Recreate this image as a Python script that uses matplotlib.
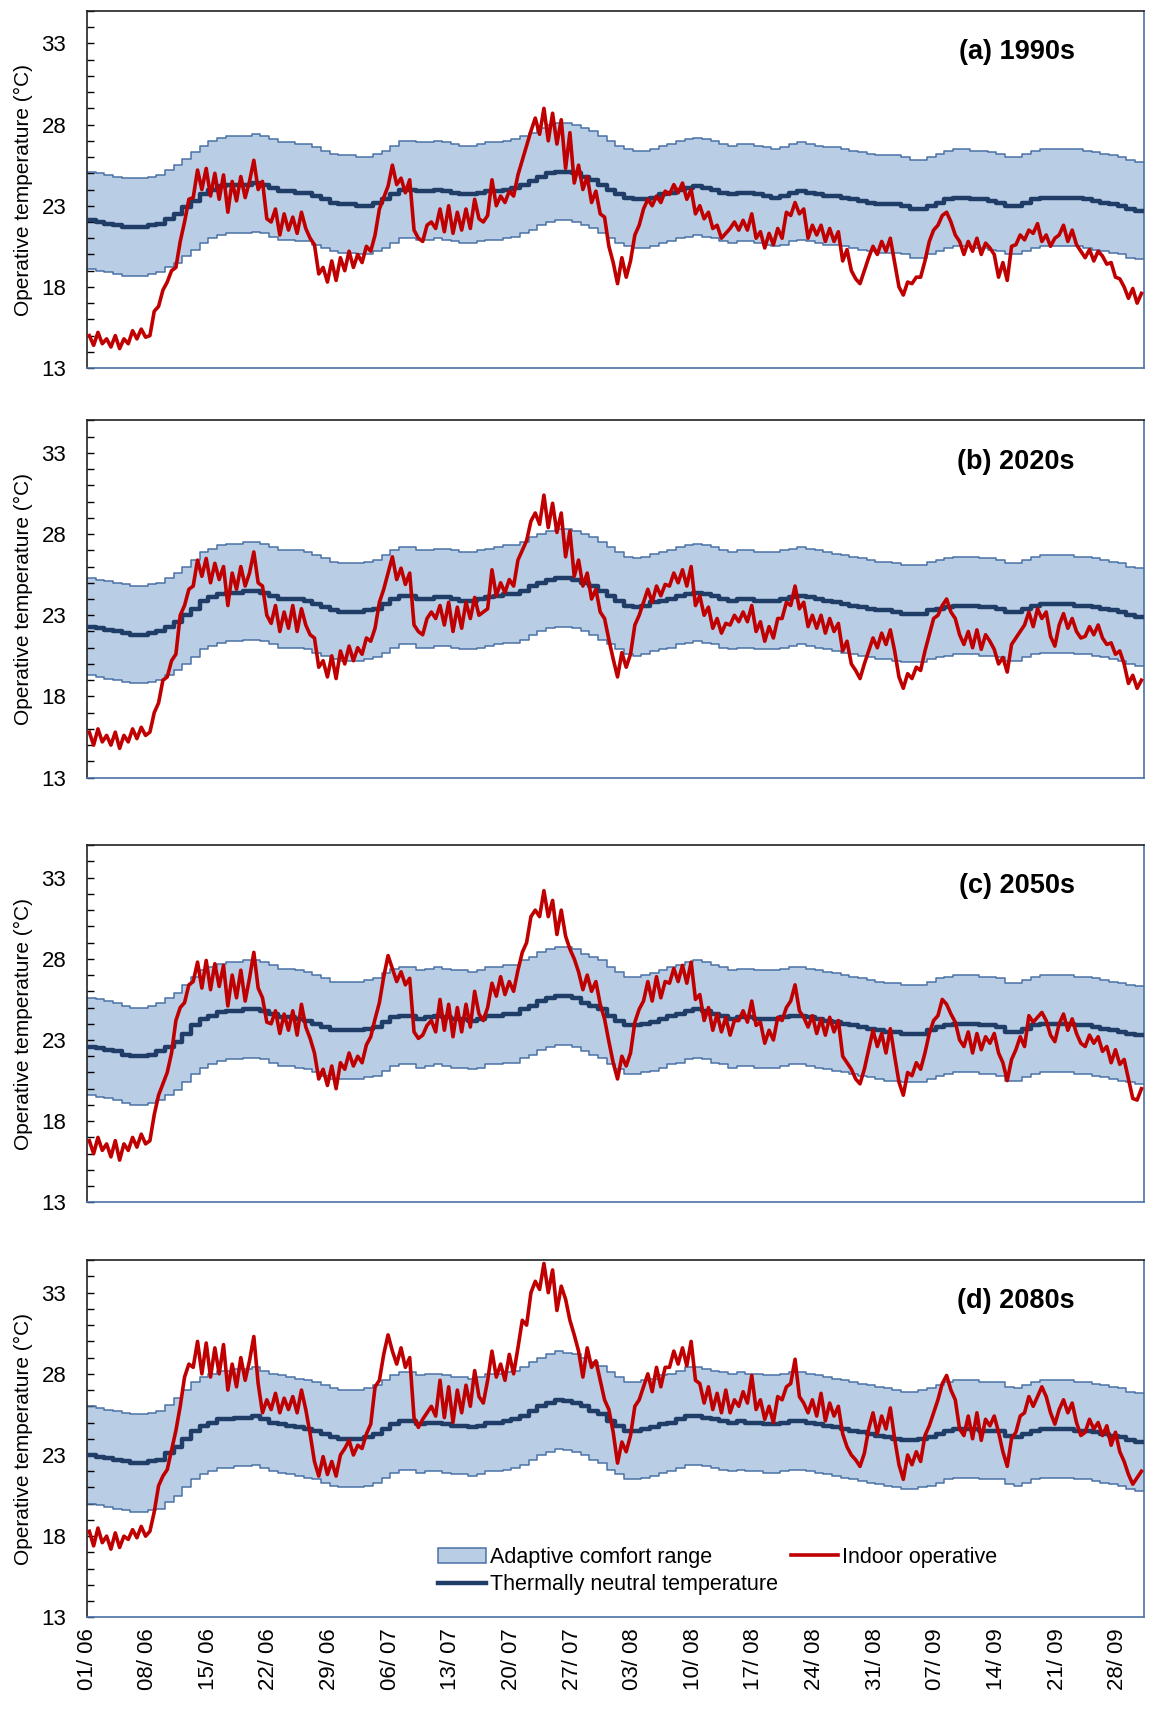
import numpy as np
import matplotlib
matplotlib.use('Agg')
import matplotlib.pyplot as plt
from matplotlib.patches import Patch
from matplotlib.lines import Line2D
from matplotlib.ticker import MultipleLocator

plt.rcParams['font.family'] = ['Liberation Sans', 'DejaVu Sans']

# x axis: days since 1 June (122 days, to 30 Sep)
n_days = 122
tick_days = [0, 7, 14, 21, 28, 35, 42, 49, 56, 63, 70, 77, 84, 91, 98, 105, 112, 119]
tick_labels = ['01/ 06', '08/ 06', '15/ 06', '22/ 06', '29/ 06', '06/ 07', '13/ 07',
               '20/ 07', '27/ 07', '03/ 08', '10/ 08', '17/ 08', '24/ 08', '31/ 08',
               '07/ 09', '14/ 09', '21/ 09', '28/ 09']
titles = ['(a) 1990s', '(b) 2020s', '(c) 2050s', '(d) 2080s']

# comfort range = neutral temperature +/- 3 K
comfort_margin = 3.0

# thermally neutral temperature, one value per day
neutral_a = [22.1, 22.0, 21.9, 21.8, 21.7, 21.7, 21.7, 21.8, 21.9, 22.2, 22.5, 22.9, 23.3, 23.7, 24.0, 24.2,
             24.3, 24.3, 24.3, 24.4, 24.3, 24.1, 23.9, 23.9, 23.8, 23.8, 23.6, 23.4, 23.2, 23.1, 23.1, 23.0,
             23.0, 23.2, 23.4, 23.7, 24.0, 24.0, 23.9, 23.9, 24.0, 23.9, 23.8, 23.7, 23.7, 23.8, 23.9, 23.9,
             24.0, 24.1, 24.3, 24.5, 24.8, 25.0, 25.1, 25.1, 25.0, 24.8, 24.6, 24.3, 24.0, 23.7, 23.5, 23.4,
             23.4, 23.5, 23.7, 23.8, 24.0, 24.1, 24.2, 24.1, 24.0, 23.8, 23.7, 23.8, 23.8, 23.7, 23.6, 23.5,
             23.6, 23.8, 23.9, 23.8, 23.7, 23.6, 23.6, 23.5, 23.4, 23.3, 23.2, 23.1, 23.1, 23.1, 23.0, 22.8,
             22.8, 23.0, 23.2, 23.4, 23.5, 23.5, 23.4, 23.4, 23.3, 23.2, 23.0, 23.0, 23.2, 23.4, 23.5, 23.5,
             23.5, 23.5, 23.5, 23.4, 23.3, 23.2, 23.1, 23.0, 22.8, 22.7]
neutral_b = [22.3, 22.2, 22.1, 22.0, 21.9, 21.8, 21.8, 21.9, 22.0, 22.3, 22.6, 23.0, 23.4, 23.9, 24.1, 24.3,
             24.4, 24.4, 24.5, 24.5, 24.4, 24.2, 24.0, 24.0, 24.0, 23.9, 23.7, 23.5, 23.3, 23.2, 23.2, 23.2,
             23.3, 23.4, 23.7, 24.0, 24.2, 24.2, 24.0, 24.0, 24.1, 24.1, 24.0, 23.9, 23.9, 24.0, 24.1, 24.2,
             24.3, 24.3, 24.5, 24.8, 25.0, 25.2, 25.3, 25.3, 25.2, 25.0, 24.8, 24.5, 24.2, 23.9, 23.6, 23.5,
             23.6, 23.8, 23.9, 24.0, 24.2, 24.3, 24.4, 24.3, 24.2, 24.0, 23.9, 24.0, 24.0, 23.9, 23.9, 23.9,
             24.0, 24.1, 24.2, 24.1, 24.0, 23.9, 23.8, 23.7, 23.6, 23.5, 23.4, 23.3, 23.3, 23.2, 23.1, 23.1,
             23.1, 23.3, 23.4, 23.5, 23.6, 23.6, 23.6, 23.5, 23.5, 23.4, 23.2, 23.2, 23.4, 23.6, 23.7, 23.7,
             23.7, 23.7, 23.6, 23.6, 23.5, 23.4, 23.3, 23.2, 23.0, 22.9]
neutral_c = [22.6, 22.5, 22.4, 22.3, 22.1, 22.0, 22.0, 22.1, 22.3, 22.6, 22.9, 23.4, 23.9, 24.3, 24.5, 24.7,
             24.8, 24.8, 24.9, 24.9, 24.8, 24.6, 24.4, 24.4, 24.3, 24.2, 24.0, 23.8, 23.6, 23.6, 23.6, 23.6,
             23.7, 23.8, 24.1, 24.4, 24.5, 24.5, 24.3, 24.4, 24.5, 24.4, 24.3, 24.3, 24.2, 24.3, 24.5, 24.5,
             24.6, 24.6, 24.9, 25.1, 25.4, 25.6, 25.7, 25.7, 25.6, 25.3, 25.1, 24.9, 24.5, 24.2, 23.9, 23.9,
             24.0, 24.1, 24.3, 24.5, 24.6, 24.8, 24.9, 24.8, 24.6, 24.5, 24.3, 24.4, 24.4, 24.3, 24.3, 24.3,
             24.4, 24.5, 24.5, 24.4, 24.3, 24.2, 24.1, 24.0, 23.9, 23.8, 23.7, 23.6, 23.5, 23.5, 23.4, 23.4,
             23.4, 23.6, 23.8, 23.9, 24.0, 24.0, 24.0, 23.9, 23.9, 23.8, 23.5, 23.5, 23.7, 23.9, 24.0, 24.0,
             24.0, 24.0, 23.9, 23.9, 23.8, 23.7, 23.6, 23.5, 23.4, 23.3]
neutral_d = [23.0, 22.9, 22.8, 22.7, 22.6, 22.5, 22.5, 22.6, 22.7, 23.1, 23.5, 24.0, 24.5, 24.8, 25.0, 25.2,
             25.2, 25.3, 25.3, 25.4, 25.2, 25.0, 24.9, 24.8, 24.7, 24.6, 24.5, 24.3, 24.1, 24.0, 24.0, 24.0,
             24.1, 24.3, 24.6, 24.9, 25.1, 25.1, 24.9, 25.0, 25.0, 24.9, 24.8, 24.8, 24.7, 24.8, 25.0, 25.0,
             25.1, 25.2, 25.4, 25.7, 26.0, 26.2, 26.4, 26.3, 26.2, 26.0, 25.7, 25.5, 25.1, 24.8, 24.5, 24.5,
             24.6, 24.7, 24.9, 25.0, 25.2, 25.4, 25.4, 25.3, 25.2, 25.1, 25.0, 25.1, 25.0, 25.0, 24.9, 24.9,
             25.0, 25.1, 25.1, 25.0, 24.9, 24.8, 24.7, 24.6, 24.5, 24.4, 24.3, 24.2, 24.1, 24.0, 23.9, 23.9,
             24.0, 24.1, 24.3, 24.5, 24.6, 24.6, 24.6, 24.5, 24.5, 24.5, 24.2, 24.1, 24.3, 24.5, 24.6, 24.6,
             24.6, 24.6, 24.5, 24.5, 24.4, 24.3, 24.2, 24.1, 23.9, 23.8]

# indoor operative temperature, two readings per day
indoor_a = [15.0, 14.4, 15.2, 14.5, 14.8, 14.3, 15.0, 14.2, 14.8, 14.5, 15.3, 14.8, 15.4, 14.9, 15.0, 16.5,
            16.8, 17.8, 18.3, 19.0, 19.2, 20.8, 22.0, 23.4, 23.5, 25.2, 24.0, 25.3, 23.6, 25.0, 23.4, 24.9,
            22.6, 24.5, 23.3, 24.8, 23.5, 24.5, 25.8, 24.0, 24.5, 22.2, 22.0, 22.8, 21.2, 22.5, 21.5, 22.3,
            21.3, 22.6, 21.6, 21.0, 20.6, 18.8, 19.2, 18.3, 19.6, 18.4, 19.8, 19.0, 20.2, 19.2, 20.0, 19.5,
            20.5, 20.2, 21.2, 22.8, 23.5, 24.2, 25.5, 24.3, 24.7, 23.8, 24.6, 21.5, 21.0, 20.8, 21.8, 22.0,
            21.6, 22.8, 21.4, 23.0, 21.3, 22.6, 21.5, 22.8, 21.6, 23.4, 22.2, 22.0, 22.4, 24.6, 23.0, 23.6,
            23.2, 23.9, 23.6, 24.9, 25.8, 26.7, 27.6, 28.4, 27.4, 29.0, 27.0, 28.7, 26.8, 28.3, 25.3, 27.5,
            24.4, 25.5, 24.0, 24.8, 23.2, 23.9, 22.5, 22.3, 20.5, 19.5, 18.2, 19.8, 18.6, 19.6, 21.2, 21.8,
            22.8, 23.4, 23.0, 23.6, 23.2, 23.9, 23.7, 24.3, 23.8, 24.4, 23.4, 24.0, 22.5, 23.0, 22.2, 22.6,
            21.6, 21.8, 21.0, 21.3, 21.6, 22.0, 21.5, 22.1, 21.5, 22.5, 21.0, 21.4, 20.4, 21.3, 20.6, 21.6,
            21.0, 22.6, 22.4, 23.2, 22.5, 22.8, 21.0, 21.8, 21.2, 21.8, 20.8, 21.6, 20.8, 21.4, 19.6, 20.3,
            19.0, 18.5, 18.2, 19.0, 19.8, 20.5, 20.0, 20.8, 20.2, 21.0, 19.5, 18.0, 17.5, 18.3, 18.2, 18.6,
            18.6, 19.6, 20.8, 21.5, 21.8, 22.4, 22.6, 22.0, 21.2, 20.8, 20.0, 20.8, 20.2, 21.0, 20.0, 20.7,
            20.4, 20.0, 18.6, 19.5, 18.4, 20.5, 20.6, 21.2, 20.9, 21.5, 21.3, 21.9, 20.8, 21.2, 20.5, 21.0,
            21.2, 21.8, 20.8, 21.5, 20.6, 20.2, 19.8, 20.3, 19.6, 20.2, 19.9, 19.4, 19.5, 18.6, 18.5, 18.0,
            17.3, 17.9, 17.0, 17.6]
indoor_b = [15.8, 15.0, 16.0, 15.2, 15.6, 15.0, 15.8, 14.8, 15.6, 15.2, 16.0, 15.4, 16.1, 15.6, 15.8, 17.0,
            17.6, 19.0, 19.2, 20.2, 20.6, 23.0, 23.6, 24.6, 24.8, 26.4, 25.4, 26.5, 25.0, 26.2, 25.2, 26.0,
            23.6, 25.6, 24.6, 26.0, 24.8, 25.6, 26.9, 25.0, 24.8, 23.0, 22.5, 23.6, 22.0, 23.2, 22.2, 23.6,
            22.0, 23.4, 22.4, 21.8, 21.6, 19.8, 20.2, 19.2, 20.5, 19.1, 20.8, 20.0, 21.1, 20.2, 21.0, 20.6,
            21.6, 21.4, 22.2, 23.8, 24.6, 25.6, 26.6, 25.2, 25.9, 24.9, 25.6, 22.4, 22.0, 21.8, 22.8, 23.2,
            22.8, 23.6, 22.4, 23.8, 22.0, 23.5, 22.2, 23.8, 22.8, 24.1, 23.0, 23.2, 23.4, 25.8, 24.2, 25.0,
            24.4, 25.2, 24.8, 26.4, 27.0, 27.6, 28.8, 29.3, 28.6, 30.4, 28.4, 29.9, 28.1, 29.3, 26.6, 28.2,
            25.4, 26.4, 24.8, 25.6, 24.0, 24.6, 23.2, 22.8, 21.5, 20.3, 19.2, 20.7, 19.8, 20.6, 22.4, 23.0,
            23.8, 24.6, 23.8, 24.8, 24.2, 24.9, 24.8, 25.6, 25.0, 25.8, 24.8, 26.0, 23.6, 24.2, 23.0, 23.5,
            22.2, 22.8, 21.9, 22.5, 22.4, 23.0, 22.6, 23.2, 22.6, 23.6, 22.0, 22.6, 21.4, 22.3, 21.6, 22.8,
            22.8, 23.8, 23.6, 24.8, 23.4, 23.8, 22.3, 23.0, 22.2, 23.0, 21.9, 22.8, 22.0, 22.5, 20.8, 21.4,
            20.0, 19.6, 19.1, 20.0, 20.8, 21.6, 21.0, 21.9, 21.2, 22.1, 20.8, 19.2, 18.5, 19.4, 19.1, 19.8,
            19.6, 20.8, 21.8, 22.8, 23.0, 23.6, 24.0, 23.2, 22.8, 21.8, 21.2, 22.0, 21.0, 22.1, 20.9, 21.8,
            21.4, 20.9, 20.0, 20.4, 19.5, 21.2, 21.6, 22.0, 22.4, 23.2, 22.3, 23.4, 22.8, 23.2, 21.7, 21.1,
            22.4, 23.1, 22.2, 22.8, 22.0, 21.6, 21.7, 22.3, 21.8, 22.4, 21.6, 21.2, 21.3, 20.6, 20.8, 20.0,
            18.8, 19.3, 18.5, 19.0]
indoor_c = [16.8, 16.0, 17.0, 16.2, 16.6, 15.8, 16.8, 15.6, 16.6, 16.2, 17.0, 16.4, 17.2, 16.6, 16.8, 18.4,
            19.6, 20.3, 21.0, 22.2, 24.2, 25.0, 25.3, 26.4, 26.6, 27.8, 26.2, 27.9, 26.1, 27.7, 26.3, 27.6,
            25.1, 27.0, 25.6, 27.3, 25.4, 26.8, 28.4, 26.2, 25.6, 24.1, 24.0, 24.8, 23.4, 24.6, 23.6, 24.8,
            23.3, 25.2, 23.8, 23.1, 22.2, 20.6, 21.2, 20.2, 21.4, 20.0, 21.6, 21.2, 22.2, 21.4, 22.0, 21.6,
            22.7, 23.2, 24.3, 25.3, 26.9, 28.2, 27.4, 26.6, 27.2, 26.4, 26.8, 23.5, 23.1, 23.3, 23.9, 24.2,
            23.5, 25.5, 23.6, 25.2, 23.2, 25.0, 23.5, 25.2, 23.8, 26.0, 24.6, 24.2, 25.0, 26.5, 25.7, 26.9,
            25.8, 26.6, 26.0, 27.3, 28.4, 29.0, 30.6, 31.0, 30.6, 32.2, 30.6, 31.6, 29.5, 31.0, 29.4, 28.6,
            28.0, 27.2, 26.1, 27.0, 26.0, 26.6, 25.2, 24.3, 22.9, 21.6, 20.6, 22.0, 21.4, 22.2, 24.1, 24.9,
            25.4, 26.6, 25.4, 26.9, 25.6, 26.6, 26.5, 27.4, 26.6, 27.6, 26.5, 27.8, 25.5, 25.8, 24.2, 25.0,
            23.6, 24.6, 23.5, 24.4, 23.3, 24.2, 24.2, 24.8, 24.1, 25.4, 23.9, 24.1, 22.8, 23.6, 23.0, 24.4,
            24.2, 25.0, 25.4, 26.4, 24.8, 24.4, 23.8, 24.5, 23.4, 24.3, 23.3, 24.4, 23.5, 24.2, 22.0, 21.6,
            21.2, 20.6, 20.3, 21.2, 22.4, 23.6, 22.6, 23.4, 22.2, 23.7, 22.0, 20.4, 19.6, 21.0, 20.8, 21.6,
            21.2, 22.2, 23.4, 24.2, 24.5, 25.5, 25.2, 24.6, 24.1, 23.0, 22.6, 23.5, 22.2, 23.4, 22.4, 23.2,
            22.8, 23.4, 22.2, 21.6, 20.5, 21.8, 22.4, 23.2, 22.6, 24.5, 24.1, 24.4, 24.7, 24.2, 23.3, 22.9,
            24.0, 24.6, 23.6, 24.3, 23.4, 22.8, 22.6, 23.3, 22.8, 23.2, 22.3, 22.6, 21.6, 22.4, 21.5, 21.8,
            20.6, 19.4, 19.3, 20.0]
indoor_d = [18.3, 17.4, 18.5, 17.6, 18.0, 17.2, 18.2, 17.3, 18.0, 17.8, 18.4, 17.9, 18.6, 18.0, 18.3, 19.5,
            21.1, 21.7, 22.1, 23.3, 24.5, 26.0, 27.8, 28.6, 28.4, 30.0, 28.0, 29.9, 27.8, 29.6, 28.0, 29.8,
            27.0, 28.6, 27.2, 29.0, 27.6, 28.8, 30.3, 27.4, 25.6, 26.4, 25.8, 26.8, 25.6, 26.5, 25.8, 26.6,
            25.6, 27.0, 25.8, 24.3, 22.6, 21.7, 22.9, 21.8, 22.6, 21.7, 23.0, 23.4, 23.9, 23.0, 23.6, 23.4,
            24.3, 24.9, 27.2, 27.6, 29.2, 30.4, 29.4, 28.6, 29.6, 28.4, 29.0, 25.3, 24.7, 25.2, 25.6, 26.0,
            25.4, 27.6, 25.3, 27.2, 25.0, 27.0, 25.6, 27.3, 26.0, 28.2, 26.6, 26.2, 27.6, 29.4, 27.8, 28.6,
            27.6, 29.2, 28.0, 29.6, 31.3, 31.0, 33.0, 33.7, 33.2, 34.8, 33.0, 34.4, 31.9, 33.4, 32.6, 31.3,
            30.4, 29.4, 27.8, 29.6, 28.4, 28.8, 27.6, 26.4, 25.8, 24.4, 22.5, 23.8, 23.2, 24.2, 26.0, 26.4,
            27.2, 28.0, 26.9, 28.4, 27.2, 28.4, 28.4, 29.4, 28.6, 29.6, 28.5, 30.0, 27.6, 27.4, 26.2, 27.2,
            25.8, 26.8, 25.6, 27.0, 25.6, 26.4, 26.0, 26.9, 26.2, 27.9, 25.8, 26.4, 25.2, 26.0, 25.0, 26.6,
            26.4, 27.2, 27.4, 28.9, 26.6, 26.2, 25.6, 26.4, 25.4, 26.8, 25.1, 26.2, 25.4, 26.0, 24.3, 23.5,
            23.0, 22.7, 22.3, 23.1, 24.6, 25.6, 24.3, 25.4, 24.6, 25.9, 24.0, 22.4, 21.5, 23.0, 22.4, 23.2,
            22.6, 24.2, 24.8, 25.6, 26.4, 27.4, 27.9, 27.0, 26.4, 24.6, 24.2, 25.4, 24.0, 25.6, 23.9, 25.2,
            24.8, 25.4, 24.4, 23.2, 22.3, 24.0, 24.4, 25.4, 25.6, 26.6, 26.0, 26.6, 27.2, 26.6, 25.6, 24.9,
            25.8, 26.4, 25.6, 26.2, 25.0, 24.2, 24.4, 25.2, 24.6, 25.0, 24.2, 24.8, 23.6, 24.4, 23.2, 22.6,
            21.8, 21.2, 21.6, 22.0]

neutrals = [neutral_a, neutral_b, neutral_c, neutral_d]
indoors = [indoor_a, indoor_b, indoor_c, indoor_d]

band_fill = '#b9cde5'
band_edge = '#4a72a6'
neutral_col = '#1f3d66'
indoor_col = '#c00000'

fig = plt.figure(figsize=(11.54, 17.12), dpi=100)

# panel [left, bottom, width, height] in figure fraction
left = 0.0755
width = 0.9155
bottoms = [0.785, 0.5458, 0.2977, 0.0553]
height = 0.2086

day_edges = np.arange(n_days + 1)

for i in range(4):
    ax = fig.add_axes([left, bottoms[i], width, height])
    neu = np.array(neutrals[i] + [neutrals[i][-1]])
    upper = neu + comfort_margin
    lower = neu - comfort_margin
    ax.fill_between(day_edges, lower, upper, step='post', color=band_fill, lw=0, zorder=1)
    ax.step(day_edges, upper, where='post', color=band_edge, lw=1.1, zorder=2)
    ax.step(day_edges, lower, where='post', color=band_edge, lw=1.1, zorder=2)
    ax.step(day_edges, neu, where='post', color=neutral_col, lw=3.2, zorder=3)
    ind = np.array(indoors[i])
    t = np.arange(len(ind)) * 0.5 + 0.25
    ax.plot(t, ind, color=indoor_col, lw=2.6, zorder=4)

    ax.set_xlim(0, n_days)
    ax.set_ylim(13, 35)
    ax.set_yticks([13, 18, 23, 28, 33])
    ax.yaxis.set_minor_locator(MultipleLocator(1))
    ax.tick_params(axis='y', which='both', direction='in', length=5, width=1, labelsize=16, pad=15)
    ax.set_ylabel('Operative temperature (°C)', fontsize=15, labelpad=6)
    ax.set_xticks(tick_days)
    if i == 3:
        ax.set_xticklabels(tick_labels, rotation=90, fontsize=16)
        ax.tick_params(axis='x', length=0, pad=8)
    else:
        ax.set_xticklabels([])
        ax.tick_params(axis='x', length=0)

    for s in ['left', 'top']:
        ax.spines[s].set_color('#222222')
        ax.spines[s].set_linewidth(1.2)
    for s in ['bottom', 'right']:
        ax.spines[s].set_color(band_edge)
        ax.spines[s].set_linewidth(1.2)

    ax.text(0.935, 0.885, titles[i], transform=ax.transAxes, ha='right', va='center',
            fontsize=19.5, fontweight='bold')

    if i == 3:
        handles = [Patch(facecolor=band_fill, edgecolor=band_edge, lw=1.1),
                   Line2D([], [], color=neutral_col, lw=3.2),
                   Line2D([], [], color=indoor_col, lw=2.6)]
        labels = ['Adaptive comfort range', 'Thermally neutral temperature', 'Indoor operative']
        ax.legend(handles, labels, ncol=2, frameon=False, fontsize=15.5,
                  loc='lower left', bbox_to_anchor=(0.318, 0.02),
                  handlelength=2.2, handletextpad=0.2, columnspacing=0.6,
                  labelspacing=0.3, borderpad=0.2)

fig.savefig('out.png', dpi=100)
